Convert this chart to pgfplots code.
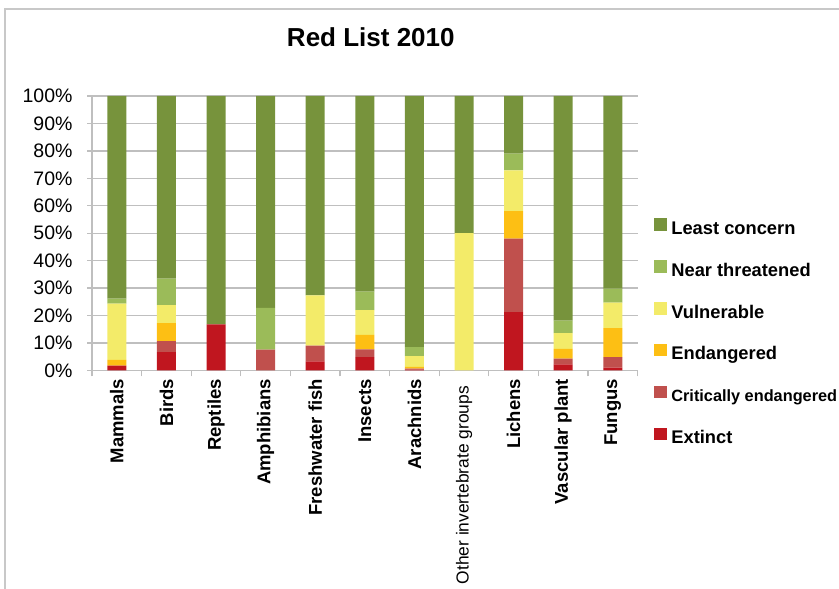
\documentclass[border=0pt]{standalone}
\usepackage{pgfplots}
\pgfplotsset{compat=1.18}
\usepackage{fontspec}
\setmainfont{Liberation Sans}
\definecolor{lc}{HTML}{77933C}
\definecolor{nt}{HTML}{9BBB59}
\definecolor{vu}{HTML}{F3EB69}
\definecolor{en}{HTML}{FDBF14}
\definecolor{cr}{HTML}{C0504D}
\definecolor{ex}{HTML}{C0161F}
\definecolor{gridgray}{HTML}{BFBFBF}
\definecolor{framegray}{HTML}{C8C8C8}
\begin{document}
\begin{tikzpicture}[x=1bp,y=1bp]
\useasboundingbox (0,0) rectangle (839,589);
\draw[framegray, line width=2bp] (4.5,-5) -- (4.5,580) -- (845,580);
\begin{axis}[
  at={(92bp,218.5bp)}, anchor=south west,
  scale only axis, width=545.6bp, height=274.5bp,
  ybar stacked, bar width=19bp,
  xmin=-0.5, xmax=10.5, ymin=0, ymax=100,
  axis x line*=bottom, axis y line*=left,
  axis line style={gridgray, line width=1.3bp, -},
  xtick={0,...,10},
  xticklabels={Mammals, Birds, Reptiles, Amphibians, Freshwater fish, Insects, Arachnids, {\mdseries\fontsize{17.4bp}{18bp}\selectfont Other invertebrate groups\hspace*{7bp}}, Lichens, Vascular plant, Fungus},
  major x tick style={draw=none},
  minor xtick={-0.5,0.5,...,10.5},
  minor x tick style={gridgray, line width=1.3bp},
  minor tick length=6bp,
  tick align=outside,
  ytick={0,10,...,100},
  yticklabel={\pgfmathprintnumber{\tick}\%},
  major y tick style={gridgray, line width=1.3bp},
  major tick length=5bp,
  ymajorgrids, grid style={gridgray, line width=1.3bp},
  /pgf/number format/assume math mode=true,
  yticklabel style={font=\fontsize{19.5bp}{20bp}\selectfont, anchor=east, xshift=-11bp},
  xticklabel style={rotate=90, anchor=east, font=\fontsize{18.5bp}{20bp}\selectfont\bfseries},
  title={Red List 2010},
  title style={at={(0.511,1.157)}, anchor=base, font=\fontsize{26bp}{28bp}\selectfont\bfseries},
  reverse legend,
  legend style={at={(1.03,0.556)}, anchor=north west, draw=none, fill=none, inner sep=0pt,
    row sep=21.7bp, font=\fontsize{18.3bp}{18bp}\selectfont\bfseries,
    nodes={inner sep=0pt, text height=12bp, text depth=4bp, anchor=west},
    /tikz/every odd column/.append style={column sep=4.5bp}},
  legend image code/.code={\fill[#1] (0bp,-0.5bp) rectangle (12.7bp,12.2bp);},
  legend cell align=left,
]
\addplot[fill=ex, draw=none] coordinates {(0,1.8) (1,6.7) (2,16.8) (3,0) (4,3.3) (5,4.9) (6,0.3) (7,0) (8,21.3) (9,2.2) (10,1.0)};
\addlegendentry{Extinct}
\addplot[fill=cr, draw=none] coordinates {(0,0) (1,4.0) (2,0) (3,7.6) (4,5.8) (5,2.8) (6,0.4) (7,0) (8,26.7) (9,2.1) (10,3.9)};
\addlegendentry{\fontsize{16.3bp}{17bp}\selectfont Critically endangered}
\addplot[fill=en, draw=none] coordinates {(0,2.1) (1,6.6) (2,0) (3,0) (4,0) (5,5.3) (6,0.6) (7,0) (8,10.1) (9,3.6) (10,10.5)};
\addlegendentry{Endangered}
\addplot[fill=vu, draw=none] coordinates {(0,20.5) (1,6.5) (2,0) (3,0) (4,18.3) (5,9.0) (6,3.9) (7,50) (8,14.8) (9,5.7) (10,9.3)};
\addlegendentry{Vulnerable}
\addplot[fill=nt, draw=none] coordinates {(0,1.8) (1,9.7) (2,0) (3,15.2) (4,0) (5,6.7) (6,3.3) (7,0) (8,6.1) (9,4.6) (10,5.1)};
\addlegendentry{Near threatened}
\addplot[fill=lc, draw=none] coordinates {(0,73.8) (1,66.5) (2,83.2) (3,77.2) (4,72.6) (5,71.3) (6,91.5) (7,50) (8,21.0) (9,81.8) (10,70.2)};
\addlegendentry{Least concern}
\end{axis}
\end{tikzpicture}
\end{document}
